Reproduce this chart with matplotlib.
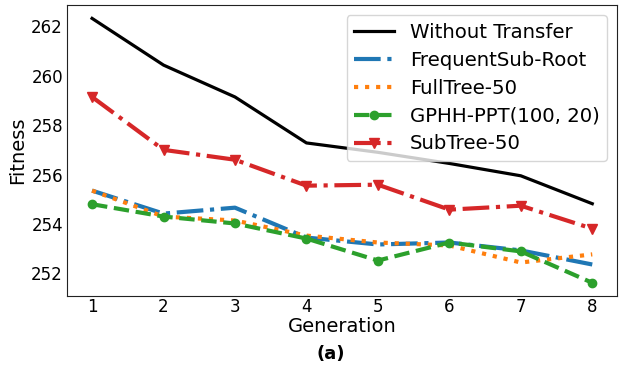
import matplotlib
matplotlib.use('Agg')
import matplotlib.pyplot as plt

generations = [1, 2, 3, 4, 5, 6, 7, 8]

without_transfer = [262.32, 260.43, 259.14, 257.28, 256.90, 256.45, 255.95, 254.82]
frequent_sub_root = [255.35, 254.42, 254.66, 253.45, 253.17, 253.25, 252.93, 252.36]
full_tree_50 = [255.35, 254.30, 254.14, 253.53, 253.25, 253.13, 252.44, 252.77]
gphh_ppt = [254.80, 254.30, 254.02, 253.41, 252.52, 253.25, 252.89, 251.62]
sub_tree_50 = [259.14, 257.00, 256.60, 255.55, 255.59, 254.58, 254.74, 253.81]

fig = plt.figure(figsize=(6.21, 3.7), dpi=100)
ax = fig.add_axes([0.108, 0.2, 0.886, 0.786])

# Plot each series
ax.plot(generations, without_transfer, color='black', linewidth=2.3, label='Without Transfer')
ax.plot(generations, frequent_sub_root, color='#1f77b4', linestyle='-.', linewidth=3, label='FrequentSub-Root')
ax.plot(generations, full_tree_50, color='#ff7f0e', linestyle=':', linewidth=3, label='FullTree-50')
ax.plot(generations, gphh_ppt, color='#2ca02c', linestyle='--', linewidth=3, marker='o', markersize=6, label='GPHH-PPT(100, 20)')
ax.plot(generations, sub_tree_50, color='#d62728', linestyle='-.', linewidth=3, marker='v', markersize=6.5, label='SubTree-50')

ax.set_xticks(generations)
ax.set_yticks([252, 254, 256, 258, 260, 262])
ax.tick_params(axis='both', length=0, labelsize=12)
ax.tick_params(axis='x', pad=1.5)
ax.tick_params(axis='y', pad=3)
ax.set_xlabel('Generation', fontsize=14, labelpad=1)
ax.set_ylabel('Fitness', fontsize=14, labelpad=3)
for s in ax.spines.values():
    s.set_color('#222222')

ax.legend(loc='upper right', fontsize=14.2, handlelength=2, labelspacing=0.45)

fig.text(0.533, 0.043, '(a)', ha='center', va='center', fontsize=13, fontweight='bold')

fig.savefig('out.png', dpi=100)
